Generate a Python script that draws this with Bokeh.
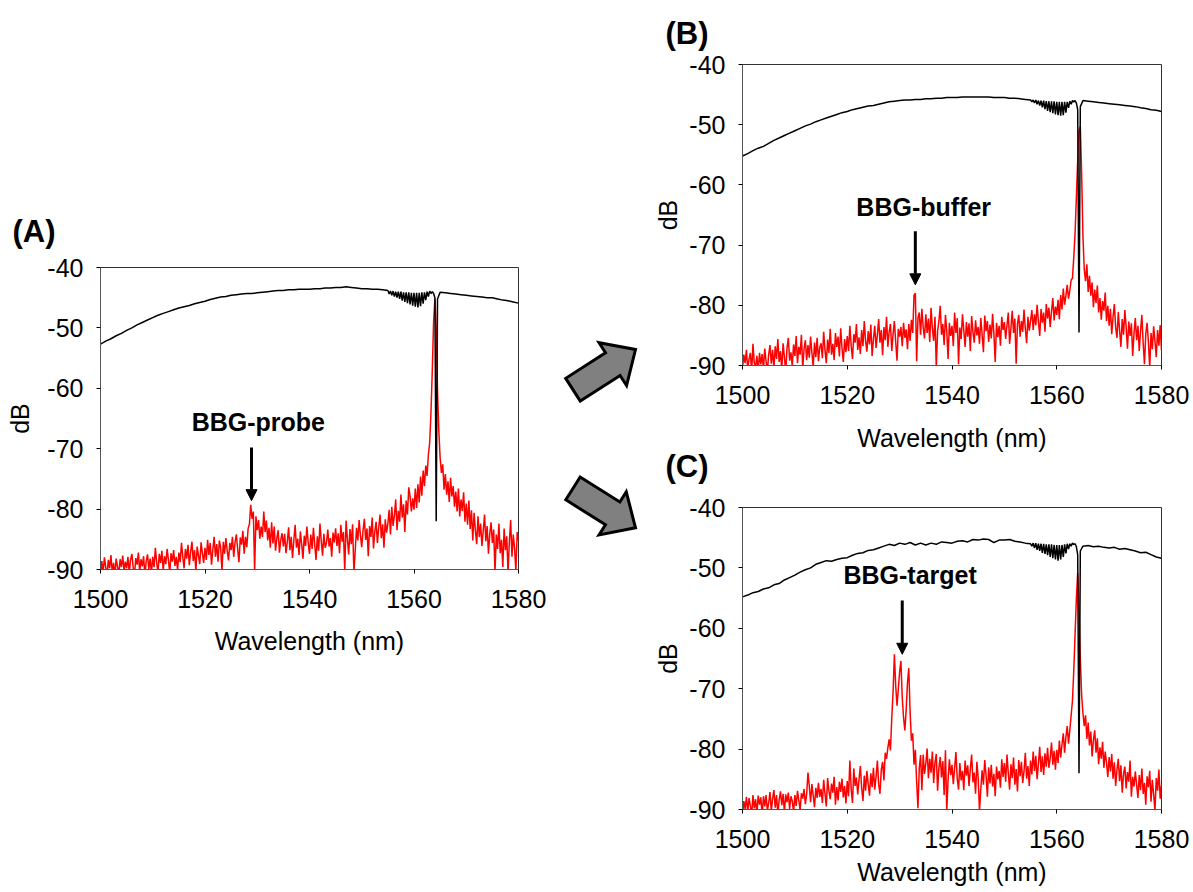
import numpy as np
from bokeh.plotting import figure
from bokeh.layouts import row, column
from bokeh.models import Label, Arrow, NormalHead, Range1d, Title
from bokeh.embed import file_html
from bokeh.resources import INLINE

# ---------------- data ----------------
# red traces sampled every 0.25 nm from 1500 to 1580 nm
red_a = [
    -91.0, -88.6, -90.5, -88.0, -89.6, -91.0, -88.4, -89.8, -87.6, -90.5,
    -88.9, -91.0, -88.2, -89.5, -90.8, -88.3, -89.6, -87.7, -90.2, -88.7,
    -89.8, -87.9, -90.5, -88.4, -87.4, -89.6, -91.0, -88.1, -89.2, -87.2,
    -90.4, -88.3, -89.5, -87.8, -91.0, -88.6, -87.5, -89.9, -88.2, -90.6,
    -87.9, -89.6, -86.4, -88.8, -90.5, -87.4, -88.9, -86.9, -90.2, -87.8,
    -89.1, -86.6, -88.4, -90.6, -87.3, -88.7, -86.8, -89.4, -87.9, -90.1,
    -87.2, -88.8, -85.6, -87.9, -89.8, -86.6, -88.2, -85.9, -89.3, -87.1,
    -85.4, -88.6, -86.8, -90.4, -86.2, -87.7, -89.1, -85.5, -87.3, -88.9,
    -86.4, -88.4, -85.1, -87.6, -85.6, -89.2, -86.7, -84.6, -87.9, -85.8,
    -88.7, -85.2, -86.4, -90.3, -85.4, -87.4, -84.8, -86.9, -88.5, -85.6,
    -86.8, -84.6, -87.9, -85.5, -84.2, -86.6, -88.8, -84.7, -85.9, -83.6,
    -87.4, -84.6, -86.3, -83.2, -82.5, -79.3, -81.6, -80.4, -90.2, -81.2,
    -83.5, -81.8, -84.9, -82.9, -84.6, -80.4, -83.8, -81.9, -85.2, -83.1,
    -86.4, -82.2, -85.7, -82.9, -86.9, -84.8, -83.5, -87.2, -85.1, -84.0,
    -86.2, -84.1, -87.3, -85.4, -83.0, -86.8, -84.6, -88.1, -85.2, -82.6,
    -86.4, -84.9, -87.6, -83.7, -85.8, -88.2, -84.4, -86.1, -82.9, -85.6,
    -87.4, -84.2, -86.6, -83.1, -85.9, -88.4, -84.5, -86.9, -82.4, -85.3,
    -87.7, -84.1, -86.4, -85.6, -83.4, -86.2, -84.8, -87.9, -83.9, -85.5,
    -83.2, -86.1, -84.0, -87.3, -82.6, -85.4, -83.8, -90.4, -81.9, -84.9,
    -87.5, -83.3, -85.8, -82.5, -90.6, -86.9, -83.1, -85.2, -81.8, -84.4,
    -86.3, -83.5, -81.6, -85.1, -83.2, -87.8, -82.8, -84.6, -81.4, -86.5,
    -83.7, -82.1, -85.6, -83.0, -80.9, -84.8, -82.5, -86.4, -81.7, -83.9,
    -82.4, -80.1, -84.2, -79.6, -82.8, -81.0, -78.4, -83.5, -80.3, -82.1,
    -77.6, -81.4, -79.2, -83.8, -78.6, -80.9, -76.4, -77.9, -80.4, -78.2,
    -80.1, -76.6, -79.8, -75.9, -78.9, -74.6, -77.8, -73.6, -76.2, -72.8,
    -74.5, -71.0, -69.0, -64.0, -57.0, -49.0, -45.2, -50.0, -60.5, -67.0,
    -71.5, -74.0, -72.6, -76.8, -74.2, -77.6, -75.4, -78.8, -74.8, -77.9,
    -76.2, -79.6, -77.1, -80.4, -76.6, -81.2, -78.4, -80.3, -77.2, -82.1,
    -79.1, -82.6, -78.6, -83.3, -80.2, -85.2, -80.6, -83.5, -85.8, -81.2,
    -84.6, -82.4, -86.1, -83.6, -80.9, -85.3, -82.8, -87.4, -84.1, -82.2,
    -85.6, -83.4, -90.5, -84.2, -86.6, -82.4, -87.3, -85.1, -89.6, -83.2,
    -86.8, -84.5, -90.6, -85.4, -81.8, -87.9, -84.2, -86.5, -90.3, -83.8,
    -85.2,
]
red_b = [
    -90.5, -88.2, -89.6, -87.4, -90.8, -88.9, -87.9, -91.0, -86.4, -89.6,
    -90.2, -88.4, -91.0, -87.9, -89.8, -88.1, -90.6, -87.2, -89.3, -90.9,
    -88.2, -86.6, -89.7, -87.4, -90.5, -86.8, -88.9, -85.6, -89.4, -87.6,
    -90.8, -86.3, -88.6, -91.0, -87.1, -85.4, -89.2, -87.8, -90.1, -86.5,
    -88.4, -85.1, -89.6, -86.9, -88.2, -84.9, -90.4, -87.3, -85.8, -89.1,
    -86.6, -88.7, -85.2, -87.9, -90.2, -86.2, -88.6, -85.4, -89.3, -87.0,
    -86.3, -88.8, -84.4, -87.5, -89.6, -85.7, -87.9, -83.9, -88.2, -86.4,
    -89.1, -84.6, -86.9, -85.2, -88.5, -83.8, -87.1, -89.4, -85.6, -87.8,
    -85.1, -87.6, -83.4, -86.7, -88.9, -84.8, -86.2, -83.1, -87.4, -85.3,
    -88.1, -84.1, -86.8, -82.6, -85.9, -87.7, -84.3, -86.5, -83.2, -88.4,
    -85.6, -83.4, -87.1, -84.9, -82.3, -86.2, -84.1, -88.3, -83.6, -85.8,
    -81.9, -86.9, -84.4, -83.1, -87.6, -84.8, -82.6, -86.1, -89.2, -83.9,
    -85.2, -83.6, -86.8, -82.9, -85.4, -84.0, -87.3, -83.1, -85.9, -82.4,
    -84.6, -78.3, -78.0, -89.3, -82.1, -81.2, -84.9, -80.6, -83.7, -85.5,
    -81.5, -84.6, -82.2, -86.1, -80.4, -83.8, -85.9, -81.9, -90.4, -84.3,
    -82.6, -80.1, -84.9, -83.1, -86.6, -81.6, -84.2, -88.9, -82.9, -85.1,
    -83.4, -86.8, -81.2, -84.6, -82.1, -89.8, -83.7, -85.6, -81.5, -84.1,
    -86.9, -82.8, -85.2, -83.0, -87.6, -81.8, -84.4, -86.2, -82.5, -85.0,
    -83.6, -86.4, -82.1, -84.9, -87.8, -81.7, -84.3, -82.6, -86.1, -83.2,
    -85.5, -81.4, -84.7, -89.4, -82.9, -85.3, -83.4, -86.7, -81.9, -84.1,
    -82.8, -85.6, -83.3, -81.2, -86.4, -83.8, -80.9, -84.6, -82.2, -89.7,
    -83.1, -81.6, -85.2, -82.6, -84.4, -80.7, -83.9, -86.3, -81.9, -84.2,
    -82.6, -80.8, -84.1, -81.5, -83.3, -79.9, -82.7, -85.1, -80.6, -82.9,
    -81.2, -84.4, -79.8, -82.2, -80.4, -83.6, -81.0, -78.8, -82.5, -80.2,
    -81.6, -79.1, -82.3, -78.3, -80.7, -77.2, -79.9, -78.4, -76.6, -78.9,
    -77.5, -75.8, -75.5, -72.0, -68.0, -62.0, -56.0, -51.0, -50.3, -58.0,
    -68.5, -74.0, -76.0, -73.2, -77.8, -75.1, -78.4, -76.2, -80.3, -77.4,
    -79.6, -76.7, -81.2, -78.8, -82.4, -79.3, -80.9, -77.9, -82.6, -80.1,
    -83.4, -80.6, -84.8, -81.9, -79.8, -83.7, -85.4, -81.1, -84.2, -86.9,
    -82.3, -84.9, -80.8, -83.6, -87.2, -82.7, -85.1, -83.0, -88.4, -84.6,
    -82.1, -85.8, -83.4, -87.6, -84.2, -81.6, -86.3, -89.8, -84.7, -82.9,
    -86.1, -90.4, -84.6, -87.3, -83.5, -85.9, -88.6, -84.1, -86.7, -83.3,
    -87.5,
]
red_c = [
    -91.0, -88.6, -89.9, -87.9, -90.4, -88.1, -89.4, -91.0, -87.6, -89.8,
    -88.3, -90.7, -87.7, -89.2, -88.0, -91.0, -87.8, -89.5, -87.6, -90.2,
    -88.9, -87.1, -90.3, -88.2, -86.8, -89.7, -87.6, -90.8, -88.4, -87.0,
    -89.3, -87.4, -90.5, -87.5, -88.8, -87.2, -89.9, -87.8, -88.6, -90.4,
    -87.6, -89.4, -86.9, -88.5, -90.1, -87.3, -88.2, -86.6, -89.1, -87.4,
    -83.9, -86.1, -88.8, -85.8, -87.7, -89.6, -86.4, -88.1, -85.6, -87.9,
    -86.6, -88.9, -85.1, -87.4, -89.5, -84.8, -86.9, -88.3, -85.7, -87.2,
    -84.6, -89.2, -86.3, -88.5, -85.4, -87.1, -84.9, -88.0, -86.1, -89.0,
    -85.3, -87.8, -81.9, -86.6, -88.9, -83.2, -86.1, -84.7, -87.5, -85.0,
    -82.8, -86.4, -88.6, -84.4, -86.9, -83.6, -85.8, -87.7, -84.0, -86.3,
    -83.1, -86.7, -84.6, -81.9, -85.8, -87.4, -83.4, -82.1, -85.2, -80.6,
    -81.6, -79.8, -78.4, -80.2, -74.8, -70.5, -64.3, -69.5, -72.8, -70.1,
    -67.2, -65.4, -71.5, -74.8, -76.9, -73.5, -69.0, -66.6, -73.8, -78.6,
    -77.4, -82.6, -80.1, -85.4, -89.8, -83.2, -81.0, -86.8, -80.9, -84.1,
    -82.4, -79.9, -84.8, -81.6, -83.9, -80.4, -85.6, -82.2, -80.8, -86.9,
    -83.1, -81.3, -84.7, -82.0, -87.6, -80.2, -90.2, -85.1, -81.7, -84.3,
    -82.6, -85.8, -83.1, -80.5, -84.9, -86.7, -82.3, -85.2, -83.6, -86.8,
    -81.9, -84.4, -82.7, -86.1, -83.3, -80.9, -85.5, -83.9, -87.4, -82.1,
    -84.8, -90.3, -86.6, -83.5, -85.9, -81.8, -84.3, -87.9, -83.0, -85.7,
    -82.6, -86.2, -84.1, -87.8, -82.9, -85.0, -83.6, -86.4, -81.7, -84.6,
    -82.3, -85.4, -80.9, -84.0, -86.7, -82.5, -84.8, -81.4, -85.9, -83.3,
    -87.0, -81.8, -84.5, -82.1, -85.6, -83.7, -80.6, -84.9, -82.8, -86.1,
    -81.9, -84.2, -80.4, -83.6, -81.1, -85.0, -82.4, -79.6, -83.8, -81.2,
    -84.3, -80.7, -82.9, -79.8, -83.1, -81.5, -78.9, -82.6, -80.3, -83.4,
    -80.1, -82.3, -78.6, -81.4, -79.2, -77.4, -80.6, -78.0, -76.2, -79.1,
    -76.8, -74.4, -72.0, -67.0, -61.0, -55.0, -50.8, -56.5, -65.0, -71.0,
    -74.0, -76.2, -74.4, -78.3, -75.6, -79.4, -77.1, -81.2, -78.5, -76.9,
    -80.6, -78.2, -82.5, -79.7, -81.6, -78.8, -83.1, -80.4, -82.2, -84.6,
    -81.3, -83.7, -80.8, -84.9, -82.2, -86.1, -83.4, -81.6, -85.3, -82.7,
    -87.2, -84.1, -82.9, -86.5, -83.8, -85.4, -81.9, -87.9, -84.6, -86.2,
    -83.7, -85.9, -88.1, -84.3, -86.8, -83.2, -87.4, -85.6, -89.2, -84.5,
    -86.3, -83.6, -88.7, -85.1, -87.5, -90.3, -84.8, -86.9, -83.4, -88.2,
    -86.0,
]

# black traces: 1 nm steps 1500-1555, 0.25 nm through the comb 1555.25-1563.75,
# the notch at 1564.0/1564.25/1564.5, then 1 nm steps 1565-1580
black_a = [
    -52.7, -52.2, -51.8, -51.3, -50.9, -50.4, -50.0, -49.5, -49.1, -48.7,
    -48.3, -47.9, -47.6, -47.3, -47.0, -46.7, -46.5, -46.3, -46.0, -45.8,
    -45.6, -45.3, -45.1, -44.9, -44.8, -44.6, -44.5, -44.4, -44.3, -44.3,
    -44.2, -44.1, -44.0, -43.9, -43.8, -43.8, -43.7, -43.7, -43.6, -43.6,
    -43.6, -43.5, -43.5, -43.4, -43.4, -43.3, -43.3, -43.2, -43.3, -43.4,
    -43.5, -43.5, -43.6, -43.6, -43.7, -43.8,
    -44.4, -43.9, -44.6, -43.9, -44.8, -44.0, -45.0, -44.0, -45.2, -44.0,
    -45.5, -44.1, -45.7, -44.1, -45.9, -44.1, -46.1, -44.2, -46.3, -44.2,
    -46.5, -44.2, -46.6, -44.2, -46.4, -44.1, -46.0, -44.1, -45.4, -44.0,
    -44.8, -43.9, -44.3, -44.0, -44.3,
    -45.0, -82.0, -45.2,
    -44.1, -44.2, -44.3, -44.4, -44.5, -44.6, -44.7, -44.8, -44.9, -45.0,
    -45.0, -45.2, -45.4, -45.5, -45.7, -45.9,
]
black_b = [
    -55.2, -54.8, -54.3, -53.9, -53.6, -53.1, -52.6, -52.2, -51.8, -51.4,
    -51.0, -50.6, -50.2, -49.9, -49.5, -49.2, -48.9, -48.6, -48.3, -48.0,
    -47.8, -47.5, -47.3, -47.1, -46.9, -46.8, -46.6, -46.4, -46.2, -46.1,
    -46.0, -45.9, -45.9, -45.8, -45.8, -45.7, -45.7, -45.6, -45.6, -45.5,
    -45.5, -45.5, -45.4, -45.4, -45.4, -45.4, -45.4, -45.4, -45.5, -45.5,
    -45.5, -45.6, -45.6, -45.7, -45.8, -45.9,
    -46.2, -45.9, -46.4, -45.9, -46.6, -46.0, -46.8, -46.0, -47.1, -46.0,
    -47.4, -46.1, -47.7, -46.1, -47.9, -46.1, -48.1, -46.1, -48.3, -46.2,
    -48.4, -46.2, -48.5, -46.2, -48.4, -46.2, -48.0, -46.2, -47.2, -46.1,
    -46.6, -46.0, -46.2, -46.0, -46.4,
    -47.5, -84.5, -47.0,
    -46.0, -46.1, -46.2, -46.3, -46.4, -46.5, -46.6, -46.7, -46.8, -46.9,
    -47.0, -47.2, -47.3, -47.5, -47.6, -47.8,
]
black_c = [
    -54.8, -54.5, -54.1, -53.9, -53.5, -53.3, -52.8, -52.6, -52.0, -51.6,
    -51.2, -50.7, -50.3, -50.0, -49.4, -49.1, -48.8, -48.9, -48.6, -48.4,
    -48.3, -47.9, -47.6, -47.5, -47.1, -47.0, -46.7, -46.4, -46.1, -46.3,
    -45.9, -46.1, -45.8, -46.2, -45.9, -46.2, -45.9, -46.1, -45.7, -45.8,
    -45.9, -45.6, -45.5, -45.7, -45.3, -45.4, -45.2, -45.3, -45.8, -45.4,
    -45.4, -45.3, -45.6, -45.7, -45.9, -46.0,
    -46.4, -45.9, -46.7, -45.9, -47.0, -46.0, -47.2, -46.0, -47.5, -46.0,
    -47.7, -46.1, -47.9, -46.1, -48.2, -46.1, -48.4, -46.2, -48.6, -46.2,
    -48.8, -46.2, -48.6, -46.2, -48.2, -46.1, -47.6, -46.0, -46.9, -46.0,
    -46.4, -45.9, -46.1, -46.0, -46.5,
    -47.8, -84.0, -47.2,
    -46.4, -46.3, -46.5, -46.4, -46.6, -46.7, -46.6, -46.9, -46.8, -47.0,
    -47.2, -47.5, -47.4, -47.8, -48.2, -48.4,
]

x_ticks = [1500, 1520, 1540, 1560, 1580]
y_ticks = [-90, -80, -70, -60, -50, -40]
panel_tags = ["(A)", "(B)", "(C)"]
peak_names = ["BBG-probe", "BBG-buffer", "BBG-target"]

wavelength = 1500 + 0.25 * np.arange(len(red_a))
black_wavelength = np.concatenate([
    np.arange(1500, 1555.5, 1.0),
    np.arange(1555.25, 1563.8, 0.25),
    [1564.0, 1564.25, 1564.5],
    np.arange(1565, 1580.5, 1.0),
])

# ---------------- style / placement ----------------
FONT = "Liberation Sans"
RED = "#ff0000"

# annotation positions (data units of each panel)
notes = {
    "A": dict(tx=1530.2, ty=-65.6, ax=1528.9, ay0=-69.8, ay1=-78.6),
    "B": dict(tx=1534.6, ty=-63.6, ax=1533.0, ay0=-67.7, ay1=-76.6),
    "C": dict(tx=1532.0, ty=-51.1, ax=1530.5, ay0=-55.4, ay1=-64.3),
}


def tag_title(text, offset, standoff, valign):
    return Title(text=text, text_font=FONT, text_font_size="31px", text_font_style="bold",
                 text_color="black", align="left", offset=offset, standoff=standoff,
                 vertical_align=valign)


def make_panel(red, black, name, nt, fw, fh, bl, br, bt, bb, ylab_standoff, xlab_standoff):
    p = figure(frame_width=fw, frame_height=fh,
               min_border_left=bl, min_border_right=br,
               min_border_top=bt, min_border_bottom=bb,
               x_range=Range1d(1500, 1580), y_range=Range1d(-90, -40),
               output_backend="svg", toolbar_location=None,
               x_axis_label="Wavelength (nm)", y_axis_label="dB")
    p.line(wavelength, red, color=RED, line_width=1.5)
    p.line(black_wavelength, black, color="black", line_width=1.5)

    p.xaxis.ticker = x_ticks
    p.yaxis.ticker = y_ticks
    p.yaxis.major_label_overrides = {v: "-%d" % abs(v) for v in y_ticks}
    p.xgrid.visible = False
    p.ygrid.visible = False
    p.background_fill_color = "white"
    p.border_fill_color = "white"
    p.outline_line_color = "#333333"
    p.outline_line_width = 1
    for ax in (p.xaxis[0], p.yaxis[0]):
        ax.axis_line_color = "#555555"
        ax.major_tick_line_color = "black"
        ax.major_tick_in = 0
        ax.major_tick_out = 4
        ax.minor_tick_in = 0
        ax.minor_tick_out = 0
        ax.major_label_text_font = FONT
        ax.major_label_text_font_size = "25px"
        ax.major_label_text_color = "black"
        ax.axis_label_text_font = FONT
        ax.axis_label_text_font_size = "25px"
        ax.axis_label_text_font_style = "normal"
        ax.axis_label_text_color = "black"
    p.xaxis.major_label_standoff = 16
    p.xaxis.axis_label_standoff = xlab_standoff
    p.yaxis.major_label_standoff = 13
    p.yaxis.axis_label_standoff = ylab_standoff

    p.add_layout(Label(x=nt["tx"], y=nt["ty"], text=name, text_font=FONT,
                       text_font_size="25px", text_font_style="bold",
                       text_align="center", text_baseline="middle", text_color="black"))
    p.add_layout(Arrow(end=NormalHead(size=11, fill_color="black", line_color="black", line_width=1),
                       x_start=nt["ax"], y_start=nt["ay0"], x_end=nt["ax"], y_end=nt["ay1"],
                       line_width=3, line_color="black"))
    return p


pA = make_panel(red_a, black_a, peak_names[0], notes["A"],
                418, 302, 100, 32, 267, 323, 10, 16)
pA.add_layout(tag_title(panel_tags[0], -88, 38, "bottom"), "above")

pB = make_panel(red_b, black_b, peak_names[1], notes["B"],
                419, 301, 92, 32, 63, 130, 4, 17)
pB.add_layout(tag_title(panel_tags[1], -77, 27, "bottom"), "above")
# tag of the lower-right panel sits in the gap between the two right-hand panels
pB.add_layout(tag_title(panel_tags[2], -77, -12, "top"), "below")

pC = make_panel(red_c, black_c, peak_names[2], notes["C"],
                419, 302, 92, 32, 12, 84, 4, 7)

# middle strip with the two grey block arrows (pixel coordinates of the page)
mid = figure(frame_width=100, frame_height=302, x_range=Range1d(550, 650), y_range=Range1d(569, 267),
             output_backend="svg", toolbar_location=None,
             x_axis_location=None, y_axis_location=None,
             min_border_left=0, min_border_right=0, min_border_top=267, min_border_bottom=323)
mid.outline_line_color = None
mid.xgrid.visible = False
mid.ygrid.visible = False

block_arrows = [
    dict(tail=(572.5, 389.2), tip=(635.0, 349.0)),
    dict(tail=(572.5, 487.9), tip=(635.0, 527.3)),
]
SHAFT_W, HEAD_W, HEAD_L = 27.0, 51.0, 27.0


def block_arrow(tail, tip):
    t = np.array(tail)
    h = np.array(tip)
    d = h - t
    u = d / np.hypot(*d)
    n = np.array([-u[1], u[0]])
    b = h - u * HEAD_L
    pts = [t + n * SHAFT_W / 2, b + n * SHAFT_W / 2, b + n * HEAD_W / 2, h,
           b - n * HEAD_W / 2, b - n * SHAFT_W / 2, t - n * SHAFT_W / 2]
    return [float(q[0]) for q in pts], [float(q[1]) for q in pts]


xs, ys = [], []
for ba in block_arrows:
    bx, by = block_arrow(ba["tail"], ba["tip"])
    xs.append(bx)
    ys.append(by)
mid.patches(xs, ys, fill_color="#808080", line_color="black", line_width=3, line_join="miter")

layout = row(pA, mid, column(pB, pC, spacing=0), spacing=0)
open("out.html", "w").write(file_html(layout, INLINE))
